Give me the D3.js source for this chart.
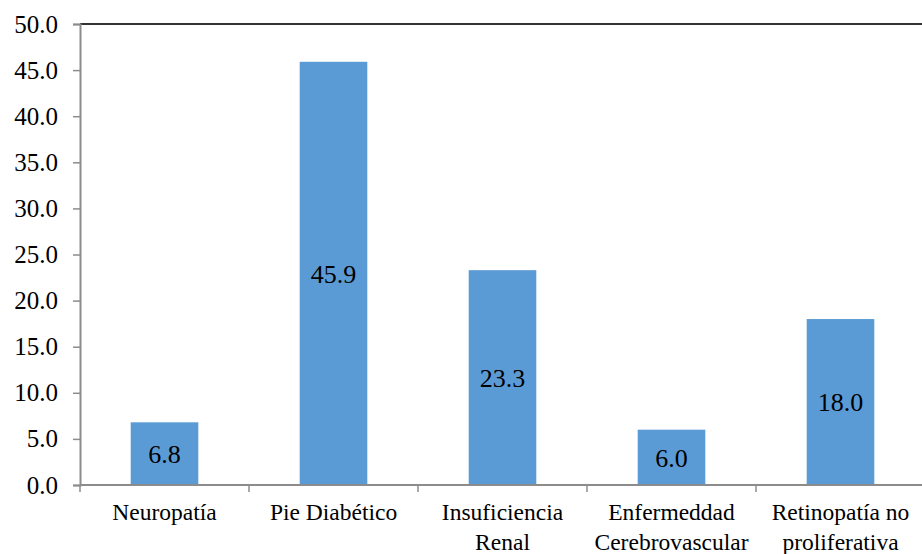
<!DOCTYPE html>
<html>
<head>
<meta charset="utf-8">
<script src="https://cdn.jsdelivr.net/npm/d3@7"></script>
<style>
  html, body { margin: 0; padding: 0; background: #fff; }
  svg { display: block; }
</style>
</head>
<body>
<svg id="chart" width="922" height="554"></svg>
<script>
// Complication categories (multi-line labels split on "\n")
const categories = [
  "Neuropatía",
  "Pie Diabético",
  "Insuficiencia\nRenal",
  "Enfermeddad\nCerebrovascular",
  "Retinopatía no\nproliferativa"
];
// Percentage per category
const values = [6.8, 45.9, 23.3, 6.0, 18.0];
// Y axis ticks
const yTicks = [0, 5, 10, 15, 20, 25, 30, 35, 40, 45, 50];

const FONT = "'Liberation Serif', 'DejaVu Serif', serif";

const svg = d3.select("#chart")
  .attr("font-family", FONT)
  .style("font-family", FONT);
const margin = { left: 80, top: 24, bottom: 485, right: 925 };

const x = d3.scaleBand()
  .domain(categories)
  .range([margin.left, margin.right])
  .paddingInner(0.6)
  .paddingOuter(0.3);

const y = d3.scaleLinear()
  .domain([0, 50])
  .range([margin.bottom, margin.top]);

// Bars
svg.append("g")
  .selectAll("rect")
  .data(values)
  .join("rect")
  .attr("x", (d, i) => x(categories[i]))
  .attr("y", d => y(d))
  .attr("width", x.bandwidth())
  .attr("height", d => y(0) - y(d))
  .attr("fill", "#5B9BD5");

// Value labels centred inside bars
svg.append("g")
  .selectAll("text")
  .data(values)
  .join("text")
  .attr("x", (d, i) => x(categories[i]) + x.bandwidth() / 2)
  .attr("y", d => (y(d) + y(0)) / 2)
  .attr("dy", "0.36em")
  .attr("text-anchor", "middle")
  .attr("font-family", FONT)
  .style("font-family", FONT)
  .style("font-size", "26px")
  .attr("fill", "#000")
  .text(d => d.toFixed(1));

// Top frame line
svg.append("line")
  .attr("x1", margin.left).attr("x2", margin.right)
  .attr("y1", y(50)).attr("y2", y(50))
  .attr("stroke", "#333").attr("stroke-width", 2);

// Y axis
const yAxis = d3.axisLeft(y)
  .tickValues(yTicks)
  .tickFormat(d3.format(".1f"))
  .tickSize(7)
  .tickPadding(15);

const gy = svg.append("g")
  .attr("transform", `translate(${margin.left},0)`)
  .call(yAxis)
  .attr("font-family", FONT);
gy.select(".domain").attr("stroke", "#8c8c8c").attr("stroke-width", 2);
gy.selectAll(".tick line").attr("stroke", "#8c8c8c").attr("stroke-width", 1.5);
gy.selectAll(".tick text")
  .attr("font-family", FONT)
  .style("font-family", FONT)
  .style("font-size", "25px")
  .attr("fill", "#000");

// X axis line with separators between categories
const gx = svg.append("g");
gx.append("line")
  .attr("x1", margin.left).attr("x2", margin.right)
  .attr("y1", y(0)).attr("y2", y(0))
  .attr("stroke", "#8c8c8c").attr("stroke-width", 2);

const step = x.step();
const boundaries = categories.map((c, i) => x(c) - x.paddingInner() * step / 2);
gx.selectAll("line.sep")
  .data(boundaries)
  .join("line")
  .attr("class", "sep")
  .attr("x1", d => d).attr("x2", d => d)
  .attr("y1", y(0)).attr("y2", y(0) + 7)
  .attr("stroke", "#8c8c8c").attr("stroke-width", 1.5);

// Category labels
const lab = gx.selectAll("text.cat")
  .data(categories)
  .join("text")
  .attr("class", "cat")
  .attr("text-anchor", "middle")
  .attr("font-family", FONT)
  .style("font-family", FONT)
  .style("font-size", "23.5px")
  .attr("fill", "#000")
  .attr("transform", d => `translate(${x(d) + x.bandwidth() / 2},${y(0) + 35})`);
lab.selectAll("tspan")
  .data(d => d.split("\n"))
  .join("tspan")
  .attr("x", 0)
  .attr("y", (d, i) => i * 30)
  .text(d => d);
</script>
</body>
</html>
